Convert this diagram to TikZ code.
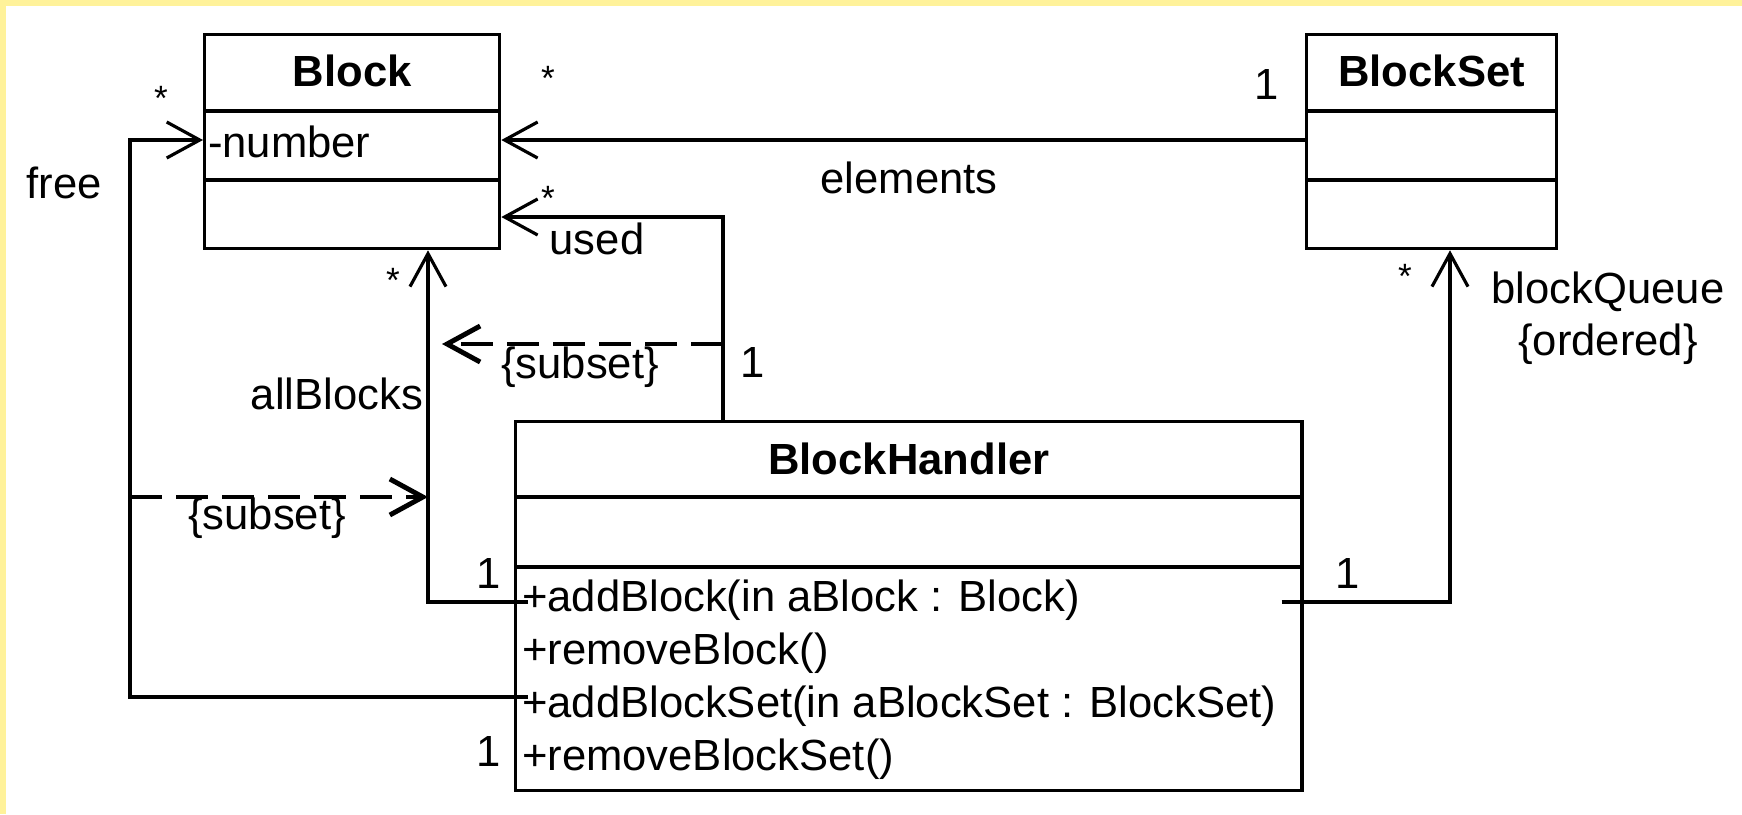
\documentclass[tikz,border=0pt]{standalone}
\usepackage{fontspec}
\setmainfont{Liberation Sans}
\usetikzlibrary{arrows.meta, positioning, calc}
\definecolor{frameyel}{HTML}{FFF29A}

\begin{document}
\begin{tikzpicture}[
  x=0.01cm, y=-0.01cm,
  font=\fontsize{12.4}{14.8}\selectfont,
  >={Straight Barb[length=3.3mm, width=3.6mm]},
  line width=0.9pt,
  cls/.style={rectangle, draw, line width=0.9pt, inner sep=0pt, anchor=north west},
  clsname/.style={font=\fontsize{12.4}{14.8}\selectfont\bfseries, inner sep=1pt},
  op/.style={anchor=west, inner sep=1pt},
  assoc/.style={->, line width=0.9pt},
  subset/.style={->, line width=1.4pt, dash pattern=on 3.2mm off 1.4mm},
  mult/.style={inner sep=1pt},
  many/.style={inner sep=1pt, font=\fontsize{10}{12}\selectfont},
  role/.style={inner sep=1pt},
]

% ---------- frame ----------
\fill[frameyel] (0,0) rectangle (1742,814);
\fill[white] (6,6) rectangle (1742,814);
\useasboundingbox (0,0) rectangle (1742,814);

% ---------- classes ----------
\node[cls, minimum width=2.95cm, minimum height=2.14cm] (block) at (203,33) {};
\draw ($(block.north west)+(0,78)$) -- ($(block.north east)+(0,78)$);
\draw ($(block.north west)+(0,147)$) -- ($(block.north east)+(0,147)$);
\node[clsname] (blockname) at ($(block.north)+(0,38)$) {Block};
\node[op] (blocknum) at ($(block.north west)+(0,109)$) {-number};

\node[cls, minimum width=2.50cm, minimum height=2.14cm] (blockset) at (1305,33) {};
\draw ($(blockset.north west)+(0,78)$) -- ($(blockset.north east)+(0,78)$);
\draw ($(blockset.north west)+(0,147)$) -- ($(blockset.north east)+(0,147)$);
\node[clsname] (blocksetname) at ($(blockset.north)+(0,38)$) {BlockSet};

\node[cls, minimum width=7.86cm, minimum height=3.69cm] (handler) at (514,420) {};
\draw ($(handler.north west)+(0,77)$) -- ($(handler.north east)+(0,77)$);
\draw ($(handler.north west)+(0,147)$) -- ($(handler.north east)+(0,147)$);
\node[clsname] (handlername) at ($(handler.north)+(0,39)$) {BlockHandler};
\node[op] (opadd) at ($(handler.north west)+(3,180)$) {+addBlock(in aBlock : Block)};
\node[op] (oprem) at ($(handler.north west)+(3,233)$) {+removeBlock()};
\node[op] (opaddset) at ($(handler.north west)+(3,286)$) {+addBlockSet(in aBlockSet : BlockSet)};
\node[op] (opremset) at ($(handler.north west)+(3,339)$) {+removeBlockSet()};

% ---------- associations ----------
\coordinate (elemrow) at (900,140);
\coordinate (freeturn) at (130,140);
\coordinate (usedx) at (723,217);
\coordinate (allx) at (428,602);
\coordinate (queuex) at (1450,602);
\coordinate (freeend) at ($(handler.north west)+(14,277)$);
\coordinate (allend) at ($(handler.north west)+(14,182)$);
\coordinate (queuestart) at ($(handler.north east)+(-22,182)$);

\draw[assoc] (blockset.west |- elemrow) -- (block.east |- elemrow);
\draw[assoc] (freeend) -| (freeturn) -- (block.west |- freeturn);
\draw[assoc] (handler.north -| usedx) |- (block.east |- usedx);
\draw[assoc] (allend) -| (block.south -| allx);
\draw[assoc] (queuestart) -| (blockset.south -| queuex);

% subset constraints
\coordinate (subA) at (442,344);
\coordinate (subB) at (130,497);
\draw[subset] (usedx |- subA) -- (subA);
\draw[subset] (subB) -- (allx |- subB);

% ---------- ends: multiplicities and roles ----------
\node[many] (m1) at (161,98) {*};
\node[role] (rfree) at (64,183) {free};
\node[mult] (m2) at (489,751) {1};

\node[many] (m3) at (548,78) {*};
\node[mult] (m4) at (1267,84) {1};
\node[role] (relem) at (909,178) {elements};

\node[many] (m5) at (548,198) {*};
\node[role] (rused) at (597,239) {used};
\node[mult] (m6) at (753,362) {1};

\node[many] (m7) at (393,280) {*};
\node[role, anchor=east] (rall) at (428,394) {allBlocks};
\node[mult] (m8) at (489,573) {1};

\node[many] (m9) at (1405,276) {*};
\node[role, align=center] (rqueue) at (1608,318) {blockQueue\\\{ordered\}};
\node[mult] (m10) at (1348,573) {1};

\node[role] (sA) at (580,367) {\{subset\}};
\node[role] (sB) at (267,518) {\{subset\}};

\end{tikzpicture}
\end{document}
